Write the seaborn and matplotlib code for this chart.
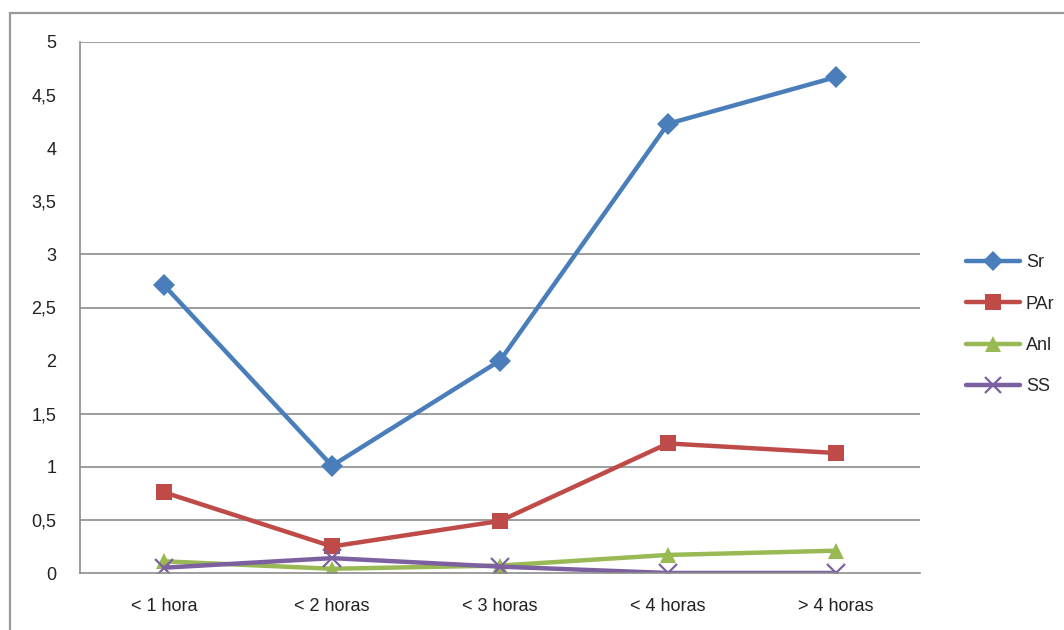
import pandas as pd
import matplotlib
matplotlib.use("Agg")
import matplotlib.pyplot as plt
import seaborn as sns
from matplotlib.patches import Rectangle

categories = ["< 1 hora", "< 2 horas", "< 3 horas", "< 4 horas", "> 4 horas"]
sr = [2.71, 1.01, 2.0, 4.23, 4.67]
par = [0.76, 0.25, 0.49, 1.22, 1.13]
anl = [0.11, 0.04, 0.07, 0.17, 0.21]
ss = [0.05, 0.14, 0.06, 0.0, 0.0]
series_names = ["Sr", "PAr", "Anl", "SS"]
y_ticks = [0, 0.5, 1, 1.5, 2, 2.5, 3, 3.5, 4, 4.5, 5]
grid_levels = [0.5, 1, 1.5, 2.5, 3, 5]  # only these show in the picture

colors = {"Sr": "#4A7EBB", "PAr": "#BE4B48", "Anl": "#98B954", "SS": "#7D60A0"}
markers = {"Sr": "D", "PAr": "s", "Anl": "^", "SS": "x"}
msizes = {"Sr": 11, "PAr": 12, "Anl": 12, "SS": 13}

df = pd.DataFrame({"pos": range(len(categories)), "Sr": sr, "PAr": par, "Anl": anl, "SS": ss})

sns.set_theme(style="white")
plt.rcParams["font.family"] = ["Liberation Sans", "DejaVu Sans"]

fig = plt.figure(figsize=(10.64, 6.3), dpi=100)
ax = fig.add_axes([80 / 1064, 57 / 630, 840 / 1064, 531 / 630])

for lvl in grid_levels:
    ax.axhline(lvl, color="#8C8C8C", lw=1.2, zorder=0)

for name in series_names:
    line_marker = markers[name] == "x"
    sns.lineplot(data=df, x="pos", y=name, color=colors[name], marker=markers[name],
                 markersize=msizes[name], markeredgewidth=1.6 if line_marker else 0,
                 markeredgecolor=colors[name], linewidth=3.2, ax=ax, label=name,
                 legend=False, sort=False)

ax.set_xlim(-0.5, len(categories) - 0.5)
ax.set_ylim(0, 5)
ax.set_yticks(y_ticks)
ax.set_yticklabels([f"{t:g}".replace(".", ",") for t in y_ticks])
ax.set_xticks(range(len(categories)))
ax.set_xticklabels(categories)
ax.set_xticks([i - 0.5 for i in range(len(categories) + 1)], minor=True)
ax.tick_params(axis="x", which="major", length=0, pad=18, labelsize=13, colors="#222222")
ax.tick_params(axis="x", which="minor", length=7, width=1.2, color="#8C8C8C", direction="out")
ax.tick_params(axis="y", length=7, width=1.2, color="#8C8C8C", direction="out",
               pad=10, labelsize=13, colors="#222222")
ax.set_xlabel("")
ax.set_ylabel("")
for s in ["top", "right"]:
    ax.spines[s].set_visible(False)
for s in ["left", "bottom"]:
    ax.spines[s].set_color("#8C8C8C")
    ax.spines[s].set_linewidth(1.2)

handles = [plt.Line2D([], [], color=colors[n], marker=markers[n], lw=3.2,
                      markersize=msizes[n] - 1, markeredgecolor=colors[n],
                      markeredgewidth=1.6 if n == "SS" else 0)
           for n in series_names]
fig.legend(handles, series_names, loc="upper left", bbox_to_anchor=(950 / 1064, 1 - 238 / 630),
           frameon=False, fontsize=13, handlelength=3.0, labelspacing=1.35,
           handletextpad=0.3, numpoints=1)

fig.add_artist(Rectangle((10 / 1064, -0.1), 1.2, 0.1 + (630 - 13) / 630,
                         transform=fig.transFigure, fill=False,
                         edgecolor="#9A9A9A", lw=1.6))

fig.savefig("out.png", dpi=100)
